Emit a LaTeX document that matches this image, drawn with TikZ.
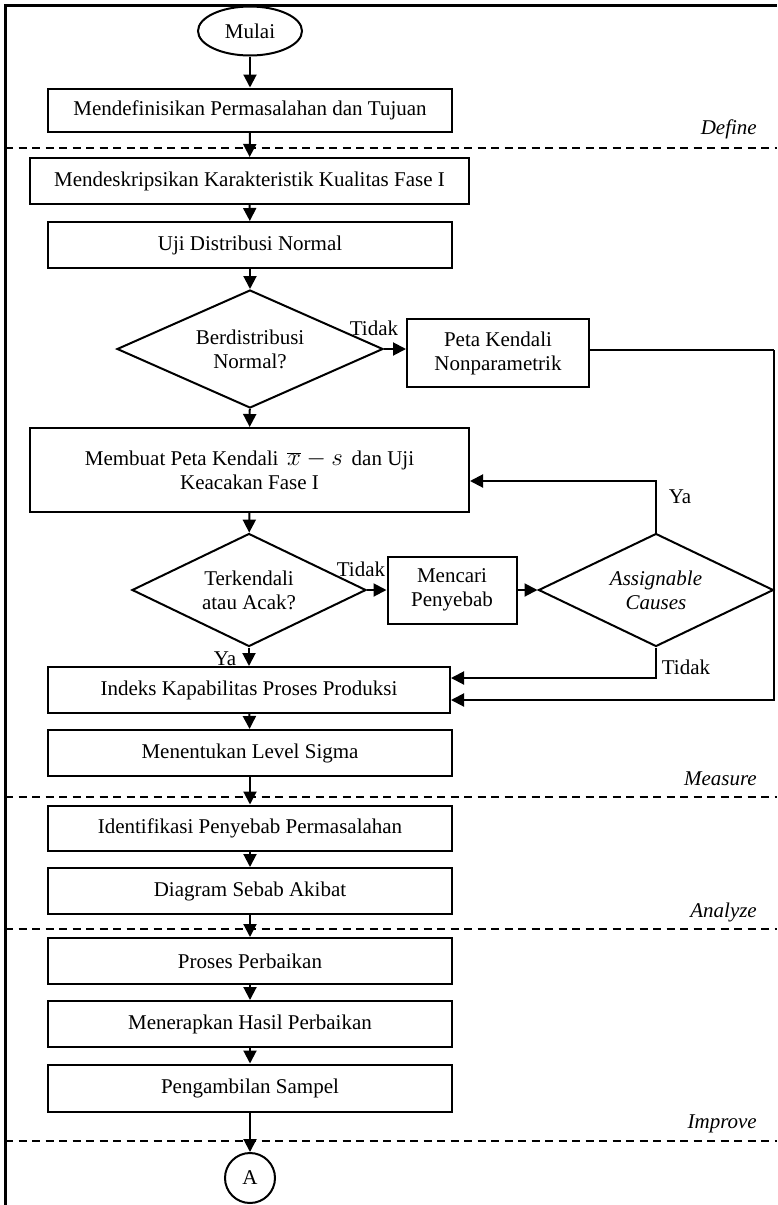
\documentclass[tikz,border=0pt]{standalone}
\usepackage{fontspec}
\setmainfont{Liberation Serif}
\usetikzlibrary{shapes.geometric,arrows.meta}
\begin{document}
\begin{tikzpicture}[x=1pt,y=-1pt,
  txt/.style={font=\fontsize{21}{24}\selectfont},
  proc/.style={draw,line width=2pt,inner sep=0pt,align=center,txt},
  dec/.style={draw,diamond,line width=2pt,inner sep=0pt},
  arr/.style={line width=2pt,-{Triangle[length=13pt,width=13pt]}},
  ln/.style={line width=2pt},
  sep/.style={line width=1.4pt,dash pattern=on 8pt off 5.5pt},
  phase/.style={font=\fontsize{21}{24}\selectfont\itshape,anchor=east,inner sep=0pt},
  lbl/.style={txt,inner sep=0pt}]
\useasboundingbox (0,0) rectangle (777,1205);
% frame
\draw[line width=2.4pt] (5.5,1205) -- (5.5,5.5) -- (777,5.5);
% phase separators
\draw[sep] (5,148) -- (777,148);
\draw[sep] (5,797) -- (777,797);
\draw[sep] (5,929) -- (777,929);
\draw[sep] (5,1141) -- (777,1141);
\node[phase] (pdef) at (757,129) {Define};
\node[phase] (pmea) at (757,779) {Measure};
\node[phase] (pana) at (757,912) {Analyze};
\node[phase] (pimp) at (757,1124) {Improve};
% nodes
\node[draw,ellipse,line width=2pt,minimum width=104pt,minimum height=49pt,inner sep=0pt,txt] (mulai) at (250,31) {Mulai};
\node[proc,minimum width=404pt,minimum height=43pt] (b1) at (250,110) {Mendefinisikan Permasalahan dan Tujuan};
\node[proc,minimum width=439pt,minimum height=46pt] (b2) at (249.5,181) {Mendeskripsikan Karakteristik Kualitas Fase I};
\node[proc,minimum width=404pt,minimum height=46pt] (b3) at (250,245) {Uji Distribusi Normal};
\node[dec,minimum width=266pt,minimum height=118pt,label={[txt,align=center]center:Berdistribusi\\Normal?}] (d1) at (250,349) {};
\node[proc,minimum width=182pt,minimum height=68pt] (peta) at (498,353) {Peta Kendali\\Nonparametrik};
\node[proc,minimum width=439pt,minimum height=84pt] (membuat) at (249.5,470) {Membuat Peta Kendali \,{\fontsize{24}{24}\selectfont$\overline{x}-s$}\, dan Uji\\Keacakan Fase I};
\node[dec,minimum width=234pt,minimum height=113pt,label={[txt,align=center]center:Terkendali\\atau Acak?}] (d2) at (249,590) {};
\node[proc,minimum width=129pt,minimum height=67pt] (mencari) at (452,590) {Mencari\\Penyebab};
\node[dec,minimum width=235pt,minimum height=113pt,label={[txt,align=center,font=\fontsize{21}{24}\selectfont\itshape]center:Assignable\\Causes}] (d3) at (656,590) {};
\node[proc,minimum width=402pt,minimum height=46pt] (indeks) at (249,690) {Indeks Kapabilitas Proses Produksi};
\node[proc,minimum width=404pt,minimum height=46pt] (sigma) at (250,753) {Menentukan Level Sigma};
\node[proc,minimum width=404pt,minimum height=45pt] (ident) at (250,828) {Identifikasi Penyebab Permasalahan};
\node[proc,minimum width=404pt,minimum height=46pt] (diag) at (250,891) {Diagram Sebab Akibat};
\node[proc,minimum width=404pt,minimum height=46pt] (proses) at (250,961) {Proses Perbaikan};
\node[proc,minimum width=404pt,minimum height=46pt] (terap) at (250,1024) {Menerapkan Hasil Perbaikan};
\node[proc,minimum width=404pt,minimum height=47pt] (sampel) at (250,1088) {Pengambilan Sampel};
\node[draw,circle,line width=2pt,minimum size=50pt,inner sep=0pt,txt] (A) at (250,1178) {A};
% connectors
\draw[arr] (mulai) -- (b1);
\draw[arr] (b1) -- (b2);
\draw[arr] (b2) -- (b3);
\draw[arr] (b3) -- (d1);
\draw[arr] (d1) -- (membuat);
\draw[arr] (d1.east) -- (d1.east -| peta.west);
\node[lbl] (t1) at (374,328) {Tidak};
\coordinate (r1) at (774,350);
\coordinate (r2) at (774,700);
\draw[ln] (peta.east |- r1) -- (r1);
\draw[arr] (r1) -- (r2) -- (r2 -| indeks.east);
\draw[arr] (membuat) -- (d2);
\draw[arr] (d2.east) -- (mencari.west);
\node[lbl] (t2) at (361,569) {Tidak};
\draw[arr] (mencari.east) -- (d3.west);
\coordinate (ya) at (656,481);
\draw[arr] (d3.north) -- (ya) -- (ya -| membuat.east);
\node[lbl] (y1) at (680,497) {Ya};
\coordinate (td) at (656,678);
\draw[arr] (d3.south) -- (td) -- (td -| indeks.east);
\node[lbl] (t3) at (686,667) {Tidak};
\draw[arr] (d2.south) -- (d2.south |- indeks.north);
\node[lbl] (y2) at (225,659) {Ya};
\draw[arr] (indeks) -- (sigma);
\draw[arr] (sigma) -- (ident);
\draw[arr] (ident) -- (diag);
\draw[arr] (diag) -- (proses);
\draw[arr] (proses) -- (terap);
\draw[arr] (terap) -- (sampel);
\draw[arr] (sampel) -- (A);
\end{tikzpicture}
\end{document}
